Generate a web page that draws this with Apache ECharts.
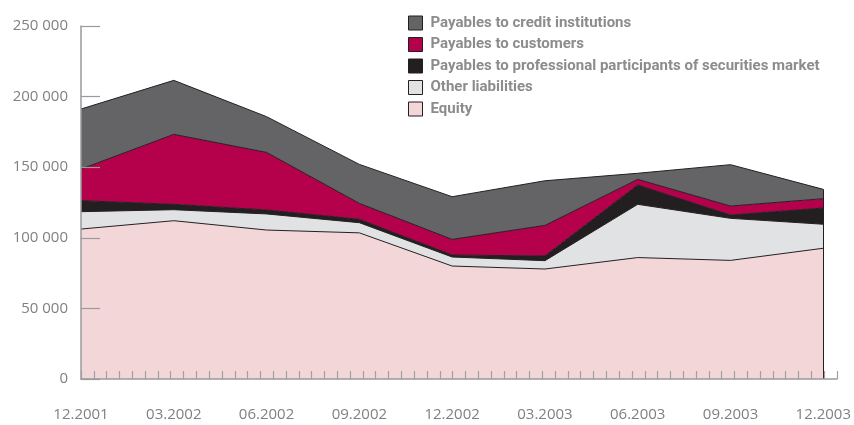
<!DOCTYPE html>
<html>
<head>
<meta charset="utf-8">
<script src="https://cdn.jsdelivr.net/npm/echarts@6/dist/echarts.min.js"></script>
<style>
html, body { margin: 0; padding: 0; background: #fff; }
#chart { width: 854px; height: 425px; }
</style>
</head>
<body>
<div id="chart"></div>
<script>
// periods (quarter ends)
const periods = ['12.2001', '03.2002', '06.2002', '09.2002', '12.2002', '03.2003', '06.2003', '09.2003', '12.2003'];

// values, stacked bottom -> top
const equity = [106200, 112100, 105500, 103500, 80000, 77900, 86000, 84000, 92600];
const otherLiabilities = [12300, 7800, 11400, 7200, 6400, 5900, 37700, 29800, 17000];
const payablesSecurities = [7800, 3800, 2800, 2400, 1400, 3300, 13700, 2300, 11500];
const payablesCustomers = [22400, 49600, 40800, 11300, 11100, 21700, 4000, 6400, 6600];
const payablesCredit = [42500, 38200, 25300, 27600, 30200, 31600, 4300, 29300, 6600];

const yTicks = [0, 50000, 100000, 150000, 200000, 250000];
const minorTickCount = 59;

const names = [
    'Payables to credit institutions',
    'Payables to customers',
    'Payables to professional participants of securities market',
    'Other liabilities',
    'Equity'
];

const chart = echarts.init(document.getElementById('chart'));

const lastIdx = periods.length - 1;
const lastTotal = equity[lastIdx] + otherLiabilities[lastIdx] + payablesSecurities[lastIdx] +
    payablesCustomers[lastIdx] + payablesCredit[lastIdx];

const fmt = v => String(v).replace(/\B(?=(\d{3})+(?!\d))/g, ' ');

const mkSeries = (name, data, color, extra) => Object.assign({
    name: name,
    type: 'line',
    stack: 'total',
    data: data,
    symbol: 'none',
    xAxisIndex: 0,
    yAxisIndex: 0,
    lineStyle: { color: '#231f20', width: 1 },
    itemStyle: { color: color },
    areaStyle: { color: color, opacity: 1 },
    emphasis: { disabled: true },
    animation: false
}, extra || {});

const option = {
    animation: false,
    legend: {
        orient: 'vertical',
        left: 403,
        top: 10,
        itemWidth: 14,
        itemHeight: 14,
        itemGap: 5.5,
        selectedMode: false,
        icon: 'rect',
        itemStyle: { borderColor: '#231f20', borderWidth: 1 },
        textStyle: {
            fontFamily: 'Roboto',
            fontWeight: 'bold',
            fontSize: 15,
            lineHeight: 16,
            color: '#8c8c8e',
            padding: [0, 0, 0, 3]
        },
        data: names
    },
    grid: [
        { left: 81, right: 29, top: 26, bottom: 46 },
        { left: 81, right: 17, top: 26, bottom: 46 }
    ],
    xAxis: [
        {
            type: 'category',
            gridIndex: 0,
            data: periods,
            boundaryGap: false,
            axisLine: { show: false },
            axisTick: { show: false },
            axisLabel: {
                margin: 28,
                fontFamily: 'Open Sans',
                fontSize: 15,
                color: '#808082'
            }
        },
        {
            type: 'value',
            gridIndex: 1,
            min: 0,
            max: minorTickCount,
            interval: 1,
            z: 10,
            axisLine: { show: true, lineStyle: { color: '#9a9a9c', width: 1.5 } },
            axisTick: { show: true, inside: true, length: 8, lineStyle: { color: '#a0a0a2', width: 1.2 } },
            axisLabel: { show: false },
            splitLine: { show: false }
        }
    ],
    yAxis: [
        {
            type: 'value',
            gridIndex: 0,
            min: yTicks[0],
            max: yTicks[yTicks.length - 1],
            interval: 50000,
            axisLine: { show: true, lineStyle: { color: '#9a9a9c', width: 1.5 } },
            axisTick: { show: true, inside: true, length: 19, lineStyle: { color: '#9a9a9c', width: 1.2 } },
            splitLine: { show: false },
            axisLabel: {
                margin: 13,
                fontFamily: 'Open Sans',
                fontSize: 15,
                color: '#808082',
                formatter: fmt
            },
            z: 10
        },
        {
            type: 'value',
            gridIndex: 1,
            min: 0,
            max: 1,
            show: false
        }
    ],
    series: [
        mkSeries(names[4], equity, '#f3d6d8'),
        mkSeries(names[3], otherLiabilities, '#e1e2e4'),
        mkSeries(names[2], payablesSecurities, '#231f20'),
        mkSeries(names[1], payablesCustomers, '#b5004c'),
        mkSeries(names[0], payablesCredit, '#646466', {
            markLine: {
                silent: true,
                symbol: 'none',
                label: { show: false },
                lineStyle: { color: '#231f20', width: 1, type: 'solid' },
                data: [[{ coord: [lastIdx, 0] }, { coord: [lastIdx, lastTotal] }]]
            }
        })
    ]
};

chart.setOption(option);
</script>
</body>
</html>
